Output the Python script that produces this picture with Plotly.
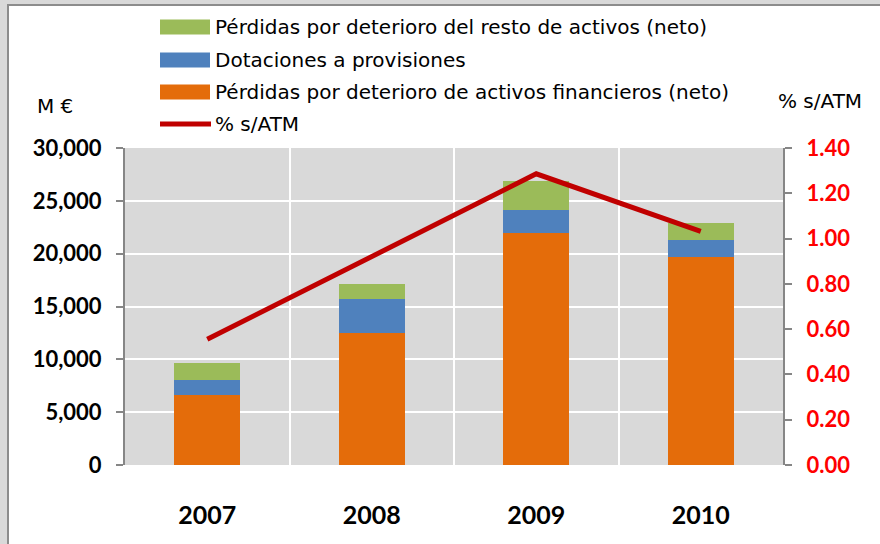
import plotly.graph_objects as go

# ---------------- data ----------------
years = ["2007", "2008", "2009", "2010"]
financieros = [6620, 12520, 21980, 19680]      # Pérdidas por deterioro de activos financieros (neto)
provisiones = [1420, 3190, 2150, 1610]         # Dotaciones a provisiones
resto = [1610, 1450, 2720, 1610]               # Pérdidas por deterioro del resto de activos (neto)
pct_atm = [0.555, 0.92, 1.286, 1.032]          # % s/ATM

names = [
    "Pérdidas por deterioro del resto de activos (neto)",
    "Dotaciones a provisiones",
    "Pérdidas por deterioro de activos financieros (neto)",
    "% s/ATM",
]
left_ticks = [0, 5000, 10000, 15000, 20000, 25000, 30000]
right_ticks = [0.0, 0.2, 0.4, 0.6, 0.8, 1.0, 1.2, 1.4]

# ---------------- style ----------------
C_GREEN = "#9BBB59"
C_BLUE = "#4F81BD"
C_ORANGE = "#E46C0A"
C_LINE = "#C00000"
FONT = "DejaVu Sans"
FONT_NUM = "Lato"

W, H = 880, 544
L, R, T, B = 125, 783, 148, 465   # plot area in pixels


def px(x):
    return (x - L) / (R - L)


def py(y):
    return (B - y) / (B - T)


xs = list(range(len(years)))

fig = go.Figure()
fig.add_trace(go.Bar(x=xs, y=financieros, name=names[2], marker_color=C_ORANGE,
                     marker_line_width=0, showlegend=False))
fig.add_trace(go.Bar(x=xs, y=provisiones, name=names[1], marker_color=C_BLUE,
                     marker_line_width=0, showlegend=False))
fig.add_trace(go.Bar(x=xs, y=resto, name=names[0], marker_color=C_GREEN,
                     marker_line_width=0, showlegend=False))
fig.add_trace(go.Scatter(x=xs, y=pct_atm, name=names[3], mode="lines", yaxis="y2",
                         line=dict(color=C_LINE, width=5), showlegend=False))

shapes = []
annotations = []

# outer frame (light gray outside, gray border)
shapes.append(dict(type="rect", xref="paper", yref="paper", layer="above",
                   x0=px(-10), x1=px(7), y0=py(560), y1=py(-10),
                   fillcolor="#D9D9D9", line_width=0))
shapes.append(dict(type="rect", xref="paper", yref="paper", layer="above",
                   x0=px(-10), x1=px(900), y0=py(4), y1=py(-10),
                   fillcolor="#D9D9D9", line_width=0))
shapes.append(dict(type="line", xref="paper", yref="paper", layer="above",
                   x0=px(8), x1=px(8), y0=py(4), y1=py(560),
                   line=dict(color="#8C8C8C", width=2)))
shapes.append(dict(type="line", xref="paper", yref="paper", layer="above",
                   x0=px(7), x1=px(900), y0=py(5), y1=py(5),
                   line=dict(color="#8C8C8C", width=2)))

# manual legend
leg_rows = [27, 60, 92, 124]
leg_colors = [C_GREEN, C_BLUE, C_ORANGE]
for i, c in enumerate(leg_colors):
    yc = leg_rows[i]
    shapes.append(dict(type="rect", xref="paper", yref="paper",
                       x0=px(160), x1=px(210), y0=py(yc + 7.5), y1=py(yc - 7.5),
                       fillcolor=c, line_width=0))
shapes.append(dict(type="line", xref="paper", yref="paper",
                   x0=px(160), x1=px(211), y0=py(leg_rows[3]), y1=py(leg_rows[3]),
                   line=dict(color=C_LINE, width=5)))
for i, n in enumerate(names):
    annotations.append(dict(text=n, xref="paper", yref="paper", x=px(213), y=py(leg_rows[i]),
                            xanchor="left", yanchor="middle", showarrow=False,
                            font=dict(family=FONT, size=20, color="#000000")))

# axis titles
annotations.append(dict(text="M €", xref="paper", yref="paper", x=px(55), y=py(106),
                        xanchor="center", yanchor="middle", showarrow=False,
                        font=dict(family=FONT, size=20, color="#000000")))
annotations.append(dict(text="% s/ATM", xref="paper", yref="paper", x=px(820), y=py(101),
                        xanchor="center", yanchor="middle", showarrow=False,
                        font=dict(family=FONT, size=20, color="#000000")))

fig.update_layout(
    width=W, height=H,
    margin=dict(l=L, r=W - R, t=T, b=H - B, pad=0),
    paper_bgcolor="#FFFFFF",
    plot_bgcolor="#D9D9D9",
    barmode="stack",
    bargap=0.6,
    showlegend=False,
    font=dict(family=FONT, color="#000000"),
    shapes=shapes,
    annotations=annotations,
    xaxis=dict(
        range=[-0.5, len(years) - 0.5],
        tickmode="array", tickvals=xs, ticktext=years,
        tickfont=dict(family=FONT_NUM, size=25, color="#000000", weight="bold"),
        showgrid=False, zeroline=False, showline=False, ticks="",
        ticklabelstandoff=33,
        minor=dict(tickmode="array", tickvals=[i + 0.5 for i in xs[:-1]],
                   showgrid=True, gridcolor="#FFFFFF", gridwidth=2, ticks=""),
    ),
    yaxis=dict(
        range=[0, 30000],
        tickmode="array", tickvals=left_ticks, tickformat=",",
        tickfont=dict(family=FONT_NUM, size=22, color="#000000", weight="bold"),
        showgrid=True, gridcolor="#FFFFFF", gridwidth=2,
        zeroline=False, showline=True, linecolor="#868686", linewidth=2,
        ticks="outside", ticklen=7, tickcolor="#868686", tickwidth=2,
        ticklabelstandoff=10,
    ),
    yaxis2=dict(
        range=[0, 1.4], overlaying="y", side="right",
        tickmode="array", tickvals=right_ticks, tickformat=".2f",
        tickfont=dict(family=FONT_NUM, size=22, color="#FF0000", weight="bold"),
        showgrid=False, zeroline=False, showline=True, linecolor="#868686", linewidth=2,
        ticks="outside", ticklen=7, tickcolor="#868686", tickwidth=2,
        ticklabelstandoff=10,
    ),
)

fig.write_html("out.html", config={"displayModeBar": False},
               post_script="document.body.style.margin='0';")
